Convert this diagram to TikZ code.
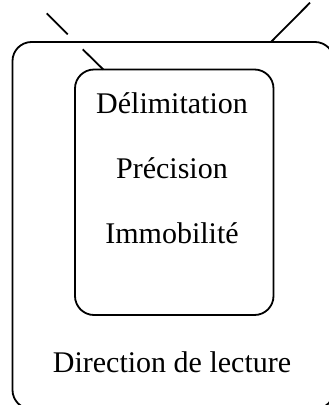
\documentclass[tikz,border=0pt]{standalone}
\usepackage{fontspec}
\setmainfont{Liberation Serif}
\begin{document}
\begin{tikzpicture}[x=1pt,y=-1pt,
  frame/.style={draw=black,line width=1.8pt,rounded corners=19pt},
  lbl/.style={anchor=base,inner sep=0pt,font=\fontsize{30}{33}\selectfont},
  tick/.style={draw=black,line width=1.8pt}]
\clip (0,0) rectangle (329,405);
\draw[frame] (12.5,42) rectangle (334,409);
\draw[frame] (75,69.5) rectangle (273.5,315);
\node[lbl] (d) at (172,113) {Délimitation};
\node[lbl] (p) at (172,178) {Précision};
\node[lbl] (i) at (172,243) {Immobilité};
\node[lbl] (r) at (172,372) {Direction de lecture};
\coordinate (a1) at (46.7,13.3);
\coordinate (a2) at (67.7,34.3);
\coordinate (b1) at (82.7,49.3);
\coordinate (b2) at (103.3,69.5);
\coordinate (c1) at (310,2.7);
\coordinate (c2) at (271,42);
\draw[tick] (a1) -- (a2);
\draw[tick] (b1) -- (b2);
\draw[tick] (c1) -- (c2);
\end{tikzpicture}
\end{document}
